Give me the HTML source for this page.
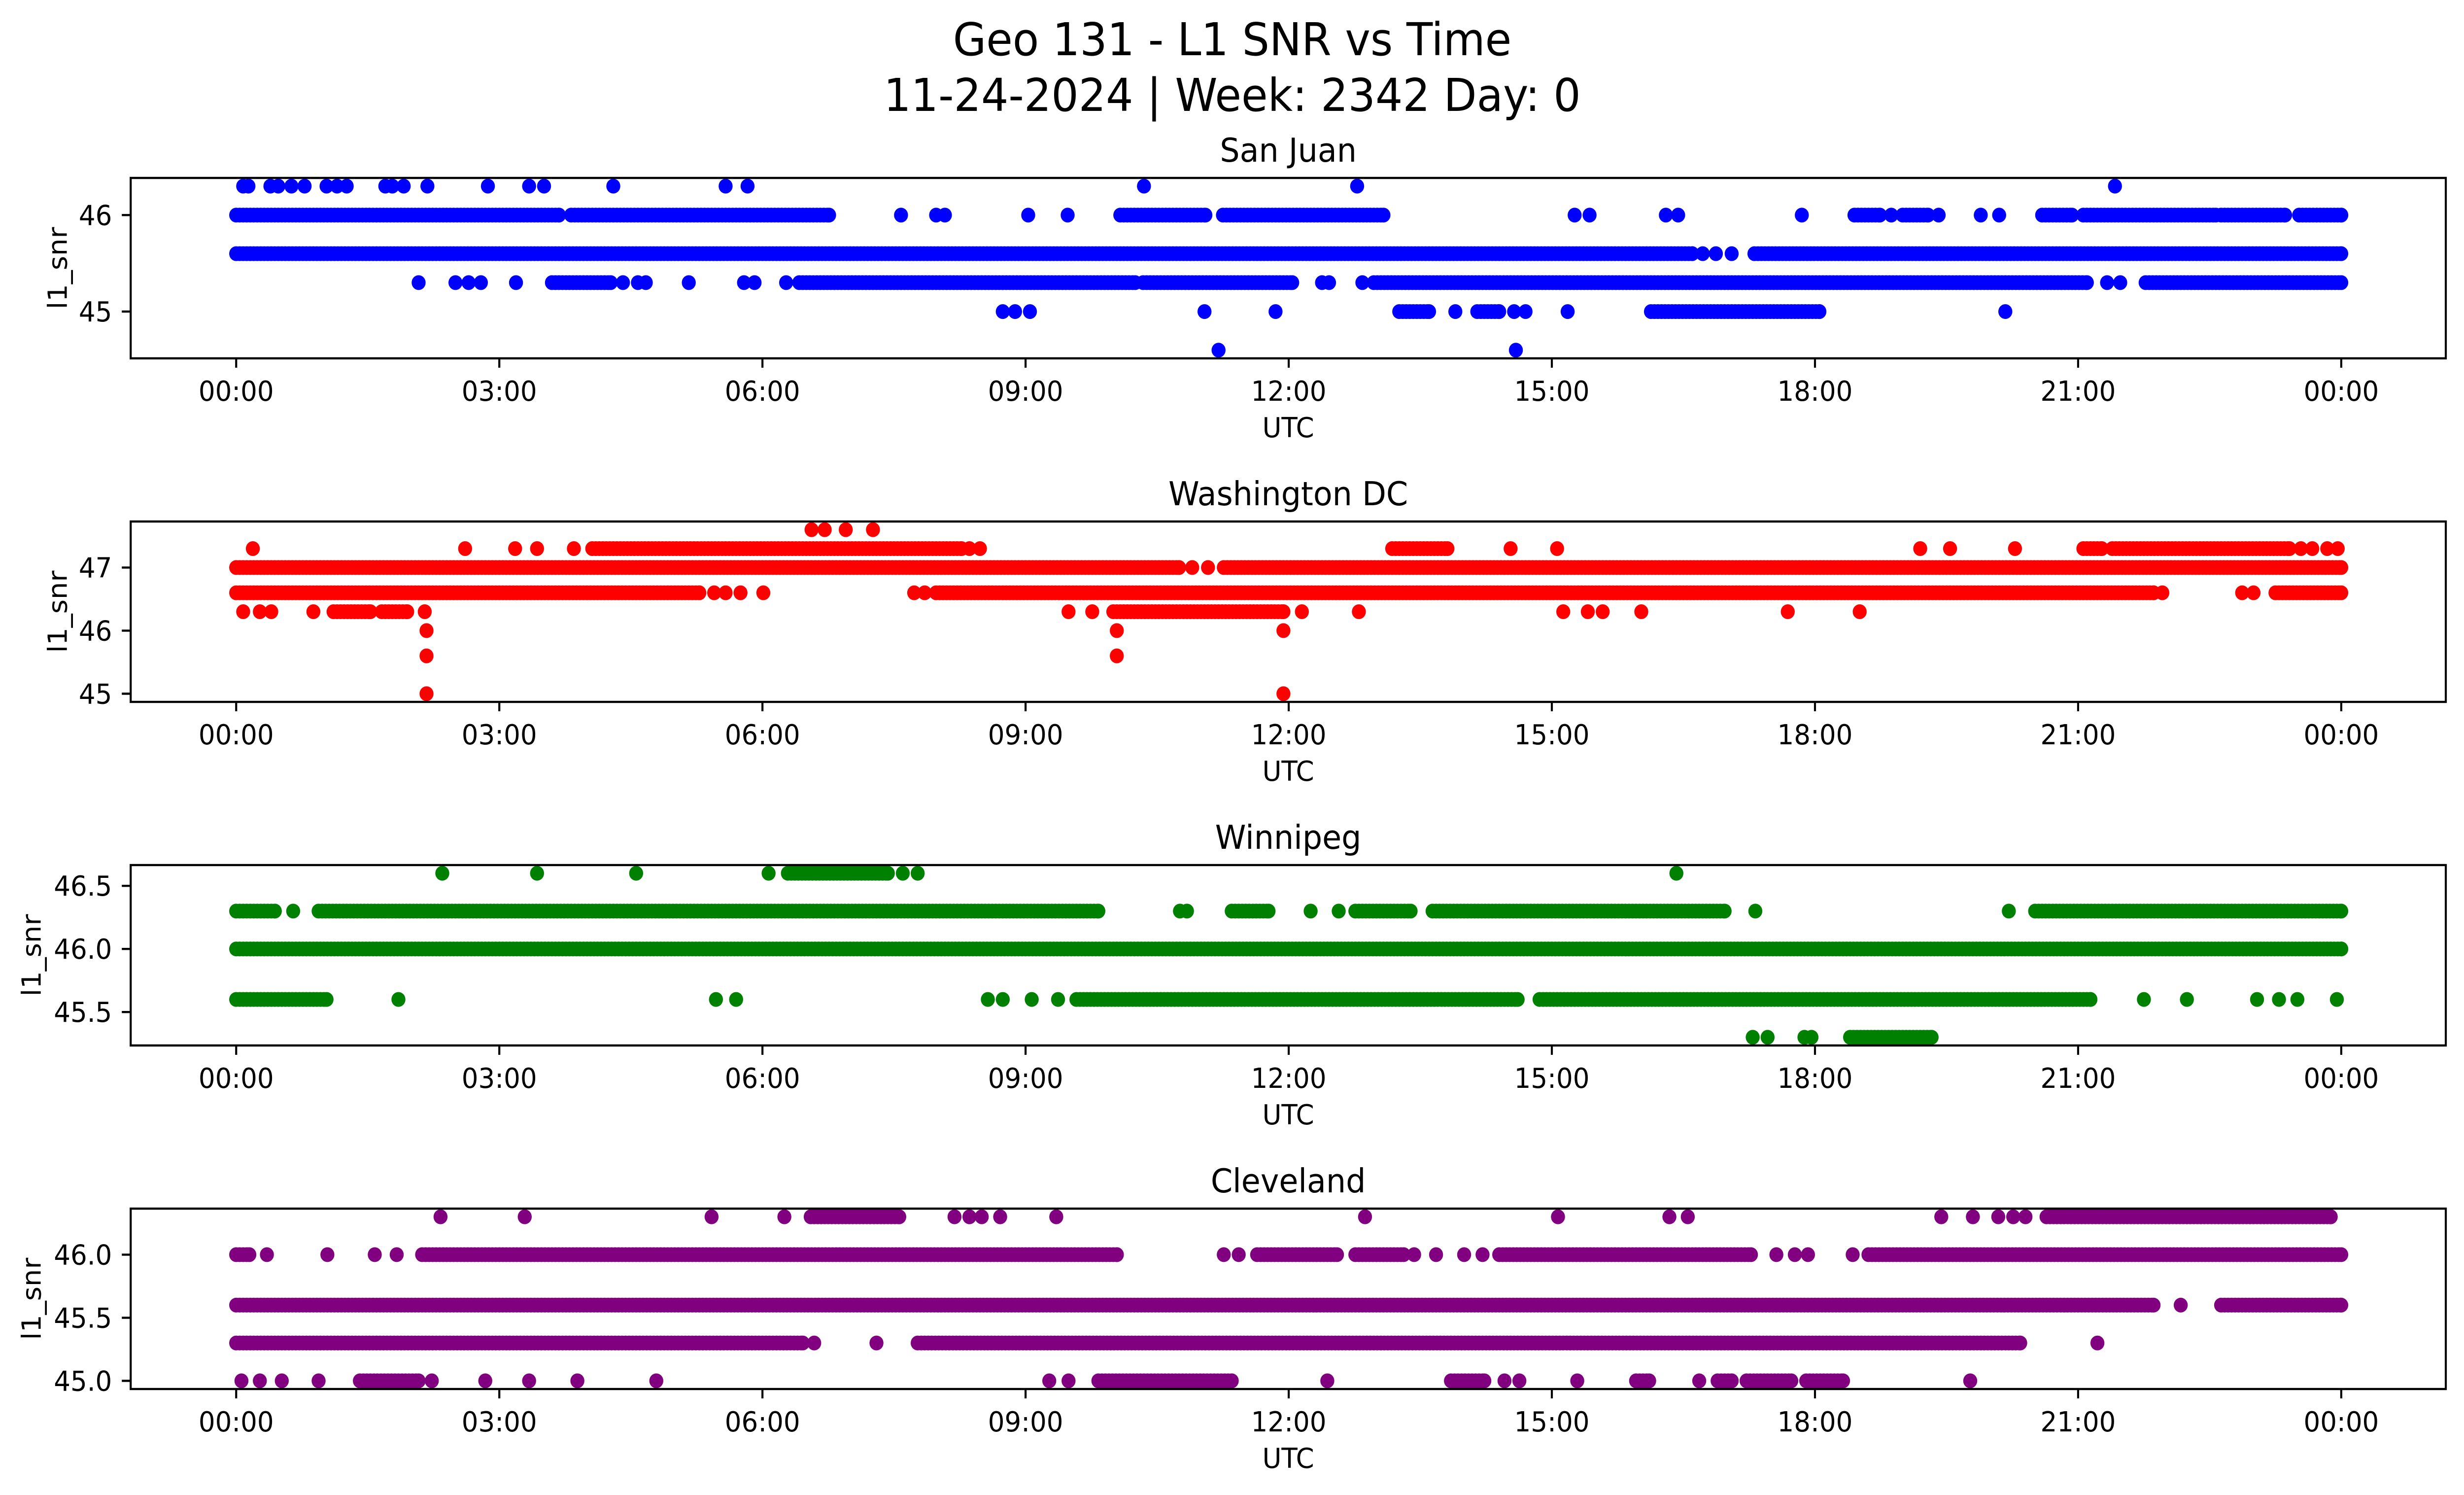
<!DOCTYPE html>
<html><head><meta charset="utf-8">
<style>
html,body{margin:0;padding:0;background:#fff;overflow:hidden;width:100vw;height:100vh;}
svg{display:block;width:100vw;height:100vh;font-family:"DejaVu Sans","Liberation Sans",sans-serif;}
</style></head>
<body>
<svg id="fig" viewBox="0 0 5279 3033" preserveAspectRatio="none" xmlns="http://www.w3.org/2000/svg">
<rect width="5279" height="3033" fill="#fff"/>
<text x="2640" y="112" font-size="92" text-anchor="middle">Geo 131 - L1 SNR vs Time</text>
<text x="2640" y="225" font-size="92" text-anchor="middle">11-24-2024 | Week: 2342 Day: 0</text>
</svg>
<script>
// ---- Data (hours UTC; runs [start,end] of dense samples or single samples) ----
const xTickLabels = ["00:00","03:00","06:00","09:00","12:00","15:00","18:00","21:00","00:00"];
const xTickHours = [0,3,6,9,12,15,18,21,24];
const stationNames = ["San Juan","Washington DC","Winnipeg","Cleveland"];
const stationColors = ["#0000ff","#ff0000","#008000","#800080"];
const yTicks1 = [45,46];
const yTicks2 = [45,46,47];
const yTicks3 = [45.5,46.0,46.5];
const yTicks4 = [45.0,45.5,46.0];
const yRange1 = [44.515,46.385];
const yRange2 = [44.87,47.73];
const yRange3 = [45.235,46.665];
const yRange4 = [44.935,46.365];

const sanJuan = [
 [46.3, [0.08,0.14,0.39,0.48,0.63,0.78,1.03,1.15,1.26,1.70,1.78,1.91,2.18,2.87,3.34,3.51,4.30,5.58,5.83,10.35,12.78,21.42]],
 [46.0, [[0,3.68],[3.82,6.76],7.58,7.98,8.08,9.03,9.48,[10.08,11.05],[11.25,13.08],15.26,15.43,16.3,16.44,17.85,[18.45,18.74],18.87,[19.0,19.29],19.41,19.89,20.1,[20.59,20.93],[21.06,22.57],[22.63,23.36],[23.52,24]]],
 [45.6, [[0,16.6],16.72,16.87,17.05,[17.31,24]]],
 [45.3, [2.08,2.5,2.65,2.79,3.19,[3.6,4.27],4.41,4.58,4.67,5.16,5.79,5.91,6.27,[6.42,10.25],[10.34,12.04],12.38,12.46,12.84,[12.97,21.1],21.33,21.48,[21.77,24]]],
 [45.0, [8.74,8.88,9.05,11.04,11.85,[13.26,13.6],13.9,[14.15,14.4],14.57,14.7,15.18,[16.13,18.05],20.17]],
 [44.6, [11.2,14.59]]
];
const washingtonDC = [
 [47.6, [6.56,6.71,6.95,7.26]],
 [47.3, [0.19,2.61,3.18,3.43,3.85,[4.06,8.27],8.36,8.48,[13.18,13.81],14.53,15.06,19.2,19.54,20.28,[21.06,21.27],[21.39,23.41],23.54,23.67,23.84,23.96]],
 [47.0, [[0,10.75],10.9,11.08,[11.26,24]]],
 [46.6, [[0,5.28],5.45,5.58,5.75,6.01,7.73,7.85,[7.98,21.86],21.96,22.87,23.0,[23.25,24]]],
 [46.3, [0.08,0.27,0.4,0.88,[1.11,1.53],[1.66,1.95],2.15,9.49,9.76,[10.0,11.94],12.15,12.8,15.13,15.41,15.58,16.02,17.69,18.51]],
 [46.0, [2.17,10.04,11.94]],
 [45.6, [2.17,10.04]],
 [45.0, [2.17,11.94]]
];
const winnipeg = [
 [46.6, [2.35,3.43,4.56,6.07,[6.29,7.43],7.6,7.77,16.42]],
 [46.3, [[0,0.44],0.65,[0.94,9.83],10.76,10.84,[11.35,11.77],12.25,12.57,[12.76,13.39],[13.64,16.97],17.32,20.21,[20.51,24]]],
 [46.0, [[0,24]]],
 [45.6, [[0,1.03],1.85,5.47,5.7,8.57,8.74,9.07,9.37,[9.58,14.61],[14.86,21.14],21.75,22.24,23.04,23.29,23.5,23.95]],
 [45.3, [17.29,17.46,17.88,17.96,[18.4,19.33]]]
];
const cleveland = [
 [46.3, [2.33,3.29,5.42,6.25,[6.55,7.56],8.19,8.36,8.5,8.71,9.35,12.87,15.07,16.34,16.55,19.44,19.8,20.09,20.26,20.4,[20.64,23.88]]],
 [46.0, [[0,0.15],0.35,1.04,1.58,1.83,[2.12,10.04],11.26,11.43,[11.64,12.55],[12.76,13.31],13.43,13.68,14.0,14.21,[14.4,17.27],17.56,17.77,17.92,18.43,[18.61,24]]],
 [45.6, [[0,21.86],22.17,[22.63,24]]],
 [45.3, [[0,6.46],6.59,7.3,[7.77,20.34],21.22]],
 [45.0, [0.06,0.27,0.52,0.94,[1.41,2.08],2.23,2.84,3.34,3.89,4.79,9.27,9.49,[9.83,11.35],12.44,[13.85,14.23],14.46,14.63,15.29,[15.96,16.11],16.68,[16.89,17.05],[17.22,17.73],[17.9,18.32],19.77]]
];

// ---- Layout ----
const NS = "http://www.w3.org/2000/svg";
const fig = document.getElementById("fig");
const AX_L = 280, AX_R = 5240, AX_H = 366;
const panelTops = [361,1058,1755,2452];
const X0 = 506, X24 = 5016;
function xScale(h){ return X0 + (X24 - X0) * h / 24; }
function mk(tag, attrs){ const e = document.createElementNS(NS, tag); for (const k in attrs) e.setAttribute(k, attrs[k]); return e; }

const allData = [sanJuan, washingtonDC, winnipeg, cleveland];
const allTicks = [yTicks1, yTicks2, yTicks3, yTicks4];
const allRanges = [yRange1, yRange2, yRange3, yRange4];
const tickDecimals = [0,0,1,1];
const ylabelX = [123,123,67,67];
const STEP = 0.04, R = 15;

allData.forEach((series, p) => {
  const top = panelTops[p], bot = top + AX_H;
  const [lo, hi] = allRanges[p];
  const yScale = v => bot - (v - lo) / (hi - lo) * AX_H;
  const g = mk("g", {});
  
  
  fig.appendChild(g);

  const title = mk("text", {x: (AX_L+AX_R)/2, y: top - 33, "font-size": 67, "text-anchor": "middle"});
  
  
  title.textContent = stationNames[p];
  g.appendChild(title);

  const pts = mk("g", {fill: stationColors[p]});
  
  
  g.appendChild(pts);
  series.forEach(([val, items]) => {
    const cy = yScale(val);
    items.forEach(it => {
      const hs = [];
      if (Array.isArray(it)) { for (let h = it[0]; h <= it[1] + 1e-9; h += STEP) hs.push(h); hs.push(it[1]); }
      else hs.push(it);
      hs.forEach(h => {
        const c = mk("circle", {cx: xScale(h).toFixed(1), cy: cy.toFixed(1), r: R});
        
        
        pts.appendChild(c);
      });
    });
  });

  const frame = mk("rect", {x: AX_L, y: top, width: AX_R-AX_L, height: AX_H, fill: "none", stroke: "#000", "stroke-width": 4.4});
  
  
  g.appendChild(frame);

  xTickHours.forEach((h, i) => {
    const x = xScale(h);
    const t = mk("line", {x1: x, x2: x, y1: bot, y2: bot + 19, stroke: "#000", "stroke-width": 4.4});
    
    
    g.appendChild(t);
    const l = mk("text", {x: x, y: bot + 86, "font-size": 56, "text-anchor": "middle"});
    
    
    l.textContent = xTickLabels[i];
    g.appendChild(l);
  });
  const xl = mk("text", {x: (AX_L+AX_R)/2, y: bot + 160, "font-size": 56, "text-anchor": "middle"});
  
  
  xl.textContent = "UTC";
  g.appendChild(xl);

  allTicks[p].forEach(v => {
    const y = yScale(v);
    const t = mk("line", {x1: AX_L - 19, x2: AX_L, y1: y, y2: y, stroke: "#000", "stroke-width": 4.4});
    
    
    g.appendChild(t);
    const l = mk("text", {x: AX_L - 40, y: y + 20, "font-size": 56, "text-anchor": "end"});
    
    
    l.textContent = v.toFixed(tickDecimals[p]);
    g.appendChild(l);
  });
  const yl = mk("text", {x: 0, y: 0, "font-size": 56, "text-anchor": "middle", transform: `translate(${ylabelX[p]+20},${top + AX_H/2}) rotate(-90)`});
  
  
  yl.textContent = "l1_snr";
  g.appendChild(yl);
});
</script>
</body></html>
